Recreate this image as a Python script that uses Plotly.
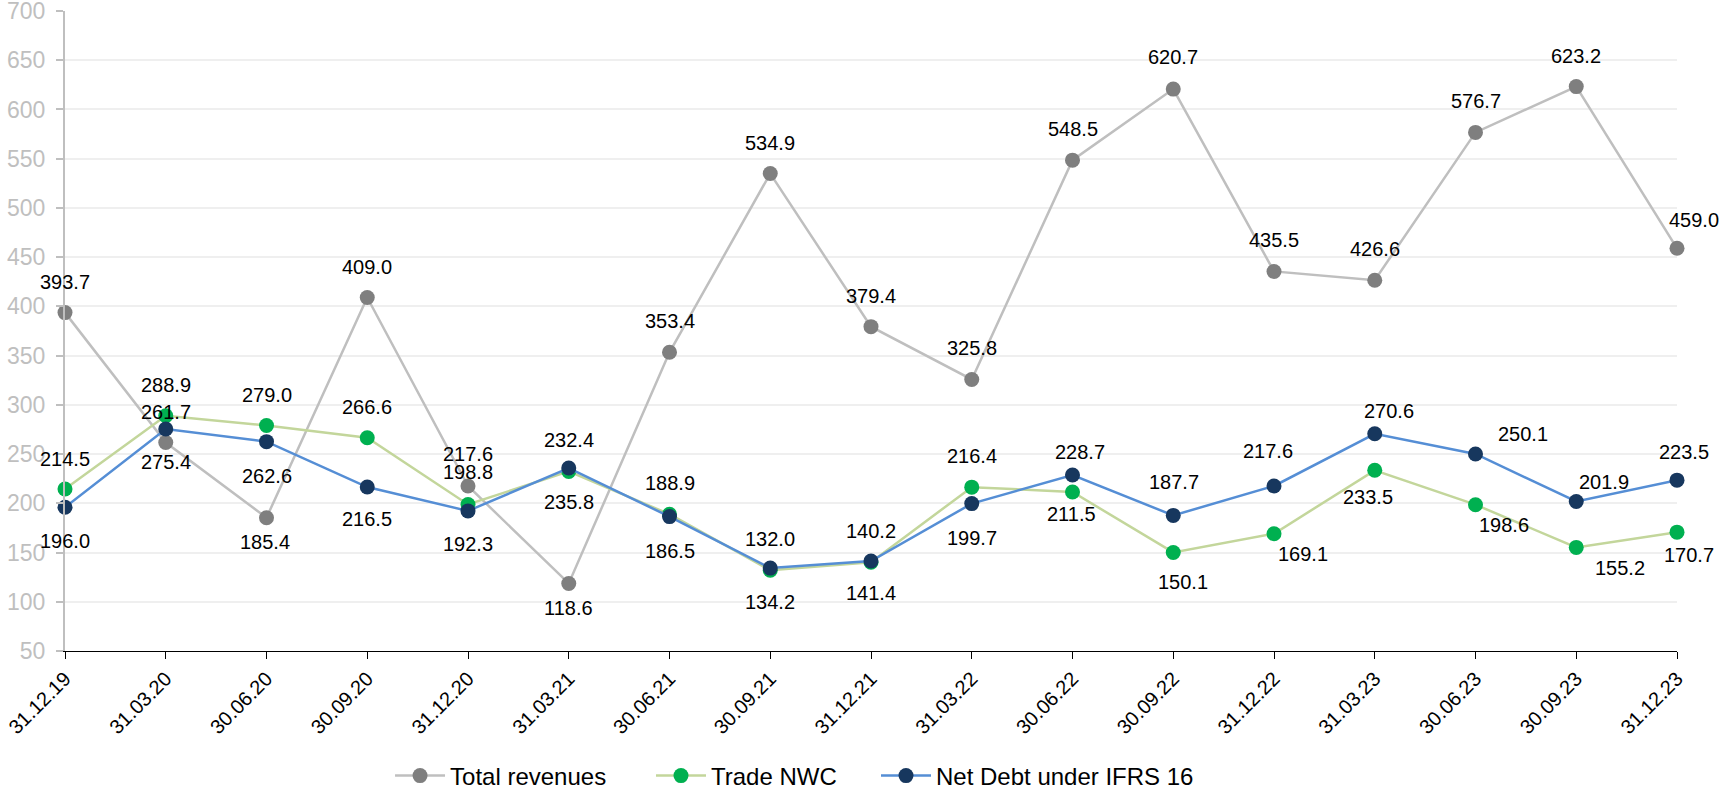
import plotly.graph_objects as go

categories = ["31.12.19", "31.03.20", "30.06.20", "30.09.20", "31.12.20", "31.03.21",
              "30.06.21", "30.09.21", "31.12.21", "31.03.22", "30.06.22", "30.09.22",
              "31.12.22", "31.03.23", "30.06.23", "30.09.23", "31.12.23"]

total_revenues = [393.7, 261.7, 185.4, 409.0, 217.6, 118.6, 353.4, 534.9, 379.4,
                  325.8, 548.5, 620.7, 435.5, 426.6, 576.7, 623.2, 459.0]
trade_nwc = [214.5, 288.9, 279.0, 266.6, 198.8, 232.4, 188.9, 132.0, 140.2,
             216.4, 211.5, 150.1, 169.1, 233.5, 198.6, 155.2, 170.7]
net_debt = [196.0, 275.4, 262.6, 216.5, 192.3, 235.8, 186.5, 134.2, 141.4,
            199.7, 228.7, 187.7, 217.6, 270.6, 250.1, 201.9, 223.5]

y_ticks = list(range(50, 701, 50))

# label offsets in screen pixels (dx right, dy down) -- styling only
rev_dx = [0, 0, -2, 0, 0, 0, 0, 0, 0, 0, 0, 0, 0, 0, 0, 0, 17]
rev_dy = [-31, -31, 24, -31, -32, 25, -31, -31, -31, -31, -31, -32, -31, -31, -31, -31, -28]
nwc_dx = [0, 0, 0, 0, 0, 0, 0, 0, 0, 0, -1, 10, 29, -7, 28, 44, 12]
nwc_dy = [-30, -31, -31, -31, -32, -31, -31, -31, -31, -31, 22, 30, 20, 27, 20, 21, 23]
nd_dx = [0, 0, 0, 0, 0, 0, 0, 0, 0, 0, 7, 1, -6, 14, 47, 28, 7]
nd_dy = [34, 33, 34, 32, 33, 34, 34, 34, 32, 34, -23, -33, -35, -23, -20, -19, -28]

FONT = "Liberation Sans, Arial, sans-serif"

series = [
    ("Total revenues", total_revenues, "#bfbfbf", "#7f7f7f", rev_dx, rev_dy, "legend", 0.2269),
    ("Trade NWC", trade_nwc, "#c3d69b", "#00b050", nwc_dx, nwc_dy, "legend2", 0.3787),
    ("Net Debt under IFRS 16", net_debt, "#558ed5", "#17375e", nd_dx, nd_dy, "legend3", 0.5096),
]

fig = go.Figure()
annotations = []
legends = {}
for name, vals, lc, mc, dxs, dys, leg, lx in series:
    fig.add_trace(go.Scatter(
        x=categories, y=vals, name=name, mode="lines+markers",
        line=dict(color=lc, width=2.5),
        marker=dict(color=mc, size=15, line=dict(width=0)),
        cliponaxis=False, hoverinfo="x+y+name", legend=leg,
    ))
    legends[leg] = dict(
        orientation="h", xref="container", yref="container",
        x=lx, xanchor="left", y=0.0177, yanchor="middle",
        font=dict(family=FONT, size=24, color="#000000"),
        itemwidth=50, bgcolor="rgba(0,0,0,0)",
    )
    for c, v, dx, dy in zip(categories, vals, dxs, dys):
        annotations.append(dict(
            x=c, y=v, xref="x", yref="y", text=f"{v:.1f}", showarrow=False,
            xanchor="center", yanchor="middle", xshift=dx, yshift=-dy,
            font=dict(family=FONT, size=20, color="#000000"),
        ))

fig.update_layout(
    width=1719, height=790,
    margin=dict(l=65, r=42, t=11, b=139, autoexpand=False),
    paper_bgcolor="white", plot_bgcolor="white",
    font=dict(family=FONT, color="#000000"),
    showlegend=True,
    annotations=annotations,
    **legends,
)

fig.update_xaxes(
    type="category", categoryorder="array", categoryarray=categories,
    range=[0, len(categories) - 1], automargin=False,
    showgrid=False, showline=True, linecolor="#000000", linewidth=1.3,
    ticks="outside", ticklen=7, tickcolor="#000000", tickwidth=1,
    tickangle=-45, tickfont=dict(family=FONT, size=20, color="#000000"),
    zeroline=False,
)
fig.update_yaxes(
    range=[50, 700], tickvals=y_ticks, automargin=False,
    showgrid=True, gridcolor="#efefef", gridwidth=2,
    showline=True, linecolor="#bfbfbf", linewidth=2,
    ticks="outside", ticklen=7, tickcolor="#bfbfbf", tickwidth=2,
    ticklabelstandoff=6, ticklabeloverflow="allow",
    tickfont=dict(family=FONT, size=23, color="#bfbfbf"),
    zeroline=False,
)

fig.write_html("out.html")
